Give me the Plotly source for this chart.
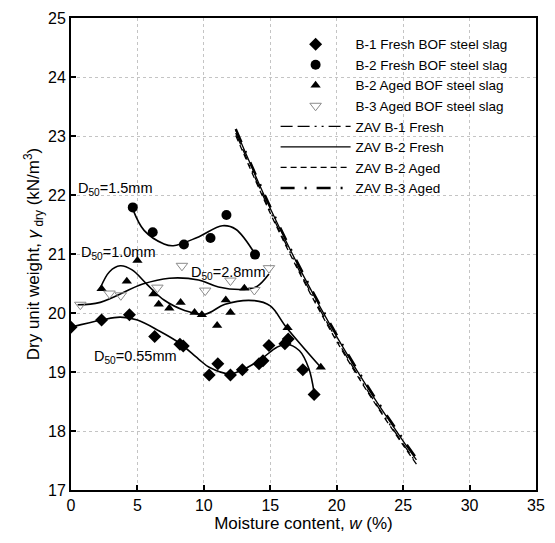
import plotly.graph_objects as go

# ---- measured points ----
b1_w = [0.0, 2.3, 4.4, 6.3, 8.2, 8.45, 10.4, 11.05, 12.0, 12.9, 14.15, 14.45, 14.9, 16.1, 16.35, 17.45, 18.3]
b1_y = [19.76, 19.88, 19.97, 19.60, 19.47, 19.44, 18.95, 19.14, 18.95, 19.04, 19.14, 19.19, 19.45, 19.48, 19.56, 19.04, 18.62]

b2f_w = [4.65, 6.15, 8.5, 10.5, 11.7, 13.85]
b2f_y = [21.79, 21.37, 21.16, 21.27, 21.66, 20.99]

b2a_w = [2.3, 4.2, 5.0, 6.2, 6.6, 7.4, 8.25, 9.3, 9.85, 11.0, 11.65, 12.0, 13.05, 16.3, 18.8]
b2a_y = [20.41, 20.54, 20.89, 20.32, 20.15, 20.08, 20.18, 20.01, 19.97, 19.79, 20.22, 20.01, 20.42, 19.75, 19.08]

b3a_w = [0.7, 2.9, 3.75, 6.5, 8.35, 10.1, 12.0, 13.8, 14.9]
b3a_y = [20.14, 20.33, 20.30, 20.43, 20.80, 20.38, 20.55, 20.39, 20.76]

# ---- fitted trend curves ----
fit055_w = [0.0, 2.3, 3.7, 5.0, 6.6, 8.1, 9.6, 10.4, 12.0, 14.0, 15.5, 16.2, 17.2, 17.9, 18.3]
fit055_y = [19.76, 19.88, 19.93, 19.88, 19.70, 19.50, 19.22, 19.08, 18.97, 19.17, 19.42, 19.47, 19.36, 19.06, 18.65]

fit15_w = [4.65, 5.5, 7.0, 7.7, 9.5, 11.4, 12.4, 13.85]
fit15_y = [21.76, 21.40, 21.17, 21.14, 21.28, 21.48, 21.42, 21.00]

fit10_w = [2.2, 2.9, 3.7, 4.6, 5.7, 7.0, 8.6, 10.1, 11.6, 13.8, 15.0, 16.2, 18.8]
fit10_y = [20.42, 20.70, 20.80, 20.73, 20.49, 20.22, 20.04, 19.98, 20.15, 20.21, 20.12, 19.76, 19.08]

fit28_w = [0.5, 2.2, 5.4, 7.4, 9.6, 11.1, 13.05, 14.0, 14.9]
fit28_y = [20.14, 20.18, 20.49, 20.59, 20.56, 20.44, 20.40, 20.45, 20.66]

# ---- zero-air-void lines ----
zav_w = [12.4, 15.0, 17.5, 20.0, 22.5, 25.0, 26.0]
zav_b1f = [23.05, 21.72, 20.58, 19.55, 18.62, 17.78, 17.46]
zav_b2f = [23.10, 21.77, 20.63, 19.60, 18.67, 17.83, 17.51]
zav_b2a = [23.01, 21.69, 20.55, 19.52, 18.60, 17.76, 17.44]
zav_b3a = [23.12, 21.80, 20.66, 19.63, 18.70, 17.86, 17.54]

labels = ["D<sub>50</sub>=1.5mm", "D<sub>50</sub>=1.0mm", "D<sub>50</sub>=2.8mm", "D<sub>50</sub>=0.55mm"]
label_w = [0.4, 0.6, 8.9, 1.6]
label_y = [22.1, 21.02, 20.68, 19.25]

FONT = "Arial, Liberation Sans, sans-serif"
fig = go.Figure()

# fitted curves (no legend)
for fw, fy in [(fit055_w, fit055_y), (fit15_w, fit15_y), (fit10_w, fit10_y), (fit28_w, fit28_y)]:
    fig.add_trace(go.Scatter(x=fw, y=fy, mode="lines", line=dict(color="black", width=1.6, shape="spline", smoothing=1.0),
                             showlegend=False, hoverinfo="skip"))

fig.add_trace(go.Scatter(x=b1_w, y=b1_y, mode="markers", name="B-1 Fresh BOF steel slag",
                         marker=dict(symbol="diamond", size=10, color="black")))
fig.add_trace(go.Scatter(x=b2f_w, y=b2f_y, mode="markers", name="B-2 Fresh BOF steel slag",
                         marker=dict(symbol="circle", size=10, color="black")))
fig.add_trace(go.Scatter(x=b2a_w, y=b2a_y, mode="markers", name="B-2 Aged BOF steel slag",
                         marker=dict(symbol="triangle-up", size=9, color="black")))
fig.add_trace(go.Scatter(x=b3a_w, y=b3a_y, mode="markers", name="B-3 Aged BOF steel slag",
                         marker=dict(symbol="triangle-down-open", size=10, color="#8a8a8a", line=dict(width=1))))

fig.add_trace(go.Scatter(x=zav_w, y=zav_b1f, mode="lines", name="ZAV B-1 Fresh",
                         line=dict(color="black", width=1.3, shape="spline", dash="12px,5px,12px,5px,2px,5px,2px,5px")))
fig.add_trace(go.Scatter(x=zav_w, y=zav_b2f, mode="lines", name="ZAV B-2 Fresh",
                         line=dict(color="black", width=1.3, shape="spline")))
fig.add_trace(go.Scatter(x=zav_w, y=zav_b2a, mode="lines", name="ZAV B-2 Aged",
                         line=dict(color="black", width=1.3, shape="spline", dash="6px,4px")))
fig.add_trace(go.Scatter(x=zav_w, y=zav_b3a, mode="lines", name="ZAV B-3 Aged",
                         line=dict(color="black", width=2.4, shape="spline", dash="14px,10px,2px,10px")))

for t, lw, ly in zip(labels, label_w, label_y):
    fig.add_annotation(x=lw, y=ly, text=t, showarrow=False, xanchor="left", yanchor="middle",
                       font=dict(family=FONT, size=14.5, color="black"))

axis_common = dict(showline=True, linecolor="black", linewidth=2, mirror=True,
                   showgrid=True, gridcolor="#c4c4c4", griddash="dot", gridwidth=1,
                   ticks="inside", ticklen=5, tickcolor="black", tickwidth=1.5,
                   tickfont=dict(family=FONT, size=16, color="black"), zeroline=False)

fig.update_layout(
    width=555, height=543,
    margin=dict(l=71, r=10, t=16, b=53),
    paper_bgcolor="white", plot_bgcolor="white",
    font=dict(family=FONT, color="black"),
    xaxis=dict(range=[0, 35], tickvals=[0, 5, 10, 15, 20, 25, 30, 35],
               title=dict(text="Moisture content, <i>w</i> (%)", font=dict(family=FONT, size=17), standoff=2),
               **axis_common),
    yaxis=dict(range=[17, 25], tickvals=[17, 18, 19, 20, 21, 22, 23, 24, 25],
               title=dict(text="Dry unit weight, <i>γ</i><sub> dry</sub> (kN/m<sup>3</sup>)", font=dict(family=FONT, size=17), standoff=4),
               **axis_common),
    legend=dict(x=0.44, y=0.977, xanchor="left", yanchor="top", bgcolor="rgba(0,0,0,0)",
                font=dict(family=FONT, size=13.5, color="black"), itemwidth=70, tracegroupgap=0),
    showlegend=True,
)

fig.write_html("out.html")
